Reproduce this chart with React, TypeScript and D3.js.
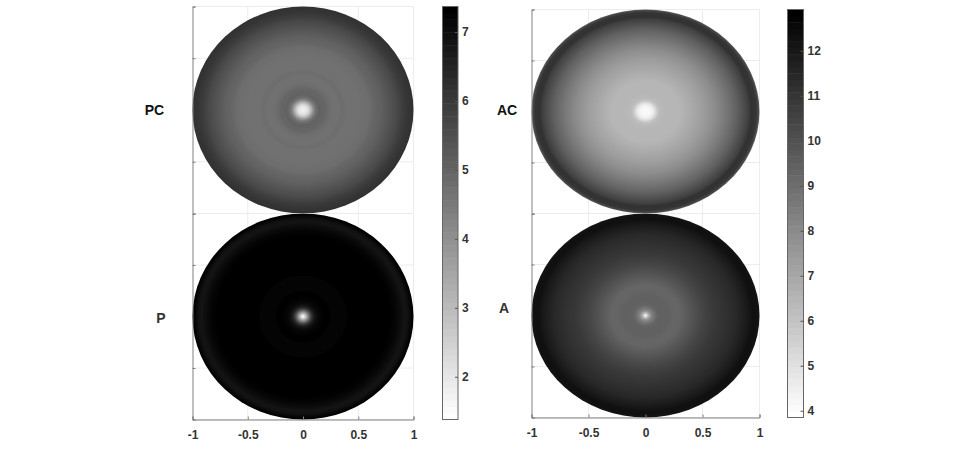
import { useEffect, useRef } from 'react';
import * as d3 from 'd3';

// radial positions (fraction of the disc radius) and the value read at each one
const pcRadii = [0, 0.02, 0.04, 0.06, 0.08, 0.1, 0.12, 0.15, 0.18, 0.2, 0.24, 0.28, 0.32, 0.36, 0.4, 0.5, 0.6, 0.65, 0.7, 0.75, 0.8, 0.85, 0.9, 0.95, 1];
const pcValues = [1.73, 1.85, 2.08, 2.67, 3.49, 4.32, 4.83, 5.11, 5.02, 4.96, 4.82, 4.74, 4.7, 4.76, 4.7, 4.68, 4.8, 4.94, 5.08, 5.27, 5.46, 5.66, 5.88, 6.08, 6.2];

const pRadii = [0, 0.01, 0.02, 0.04, 0.06, 0.08, 0.1, 0.13, 0.16, 0.2, 0.245, 0.25, 0.395, 0.4, 0.78, 0.83, 0.88, 0.92, 0.95, 0.98, 1];
const pValues = [1.5, 1.85, 2.55, 3.85, 5.2, 6.2, 6.8, 7.1, 7.22, 7.28, 7.32, 7.22, 7.22, 7.31, 7.3, 7.2, 7.05, 6.9, 6.95, 7.22, 7.37];

const acRadii = [0, 0.04, 0.07, 0.09, 0.11, 0.13, 0.18, 0.2, 0.3, 0.4, 0.5, 0.6, 0.7, 0.75, 0.8, 0.85, 0.9, 0.93, 0.97, 0.99, 1];
const acValues = [4.03, 4.21, 4.56, 5.27, 5.98, 6.34, 6.52, 6.41, 6.52, 6.87, 7.3, 7.94, 8.58, 9.08, 9.51, 9.95, 10.6, 11.1, 11, 10.3, 9.5];

const aRadii = [0, 0.01, 0.02, 0.04, 0.06, 0.08, 0.1, 0.13, 0.17, 0.2, 0.25, 0.3, 0.35, 0.4, 0.5, 0.6, 0.7, 0.8, 0.85, 0.9, 0.94, 0.97, 1];
const aValues = [4.21, 4.92, 5.98, 7.58, 8.47, 8.94, 9.3, 9.45, 9.5, 9.4, 9.28, 9.36, 9.65, 9.9, 10.43, 10.86, 11.21, 11.5, 11.71, 12, 12.3, 12.3, 12.1];

const xTicks = [-1, -0.5, 0, 0.5, 1];
const yTicks = [-1, -0.5, 0.5, 1];
const leftDomain = [1.38, 7.37];
const rightDomain = [3.85, 12.92];
const leftBarTicks = [2, 3, 4, 5, 6, 7];
const rightBarTicks = [4, 5, 6, 7, 8, 9, 10, 11, 12];

const levels = 64;
const axisColor = '#808080';
const gridColor = '#ececec';
const textColor = '#333';

function grayRamp(domain) {
  const ramp = d3.range(levels).map(i => {
    const g = Math.round(255 * (1 - i / (levels - 1)));
    return d3.rgb(g, g, g).formatHex();
  });
  return d3.scaleQuantize().domain(domain).range(ramp);
}

function styleAxis(g) {
  g.selectAll('path, line').attr('stroke', axisColor);
  g.selectAll('text')
    .attr('fill', textColor)
    .attr('font-family', '"Liberation Sans", Arial, sans-serif')
    .attr('font-size', 12)
    .attr('font-weight', 700);
}

function drawDisc(svg, id, box, radii, values, domain, showX) {
  const x = d3.scaleLinear().domain([-1, 1]).range([box.x0, box.x1]);
  const y = d3.scaleLinear().domain([-1, 1]).range([box.y1, box.y0]);
  const color = grayRamp(domain);

  // Grid lines
  svg.append('g')
    .selectAll('line.v')
    .data(xTicks.slice(1))
    .join('line')
    .attr('x1', d => x(d))
    .attr('x2', d => x(d))
    .attr('y1', box.y0)
    .attr('y2', box.y1)
    .attr('stroke', gridColor);

  svg.append('g')
    .selectAll('line.h')
    .data(yTicks)
    .join('line')
    .attr('x1', box.x0)
    .attr('x2', box.x1)
    .attr('y1', d => y(d))
    .attr('y2', d => y(d))
    .attr('stroke', gridColor);

  const gradient = svg.append('defs')
    .append('radialGradient')
    .attr('id', id);

  gradient.selectAll('stop')
    .data(radii)
    .join('stop')
    .attr('offset', d => d)
    .attr('stop-color', (d, i) => color(values[i]));

  svg.append('ellipse')
    .attr('cx', x(0))
    .attr('cy', y(0))
    .attr('rx', x(1) - x(0))
    .attr('ry', y(-1) - y(0))
    .attr('fill', `url(#${id})`);

  // Axes
  const left = svg.append('g')
    .attr('transform', `translate(${box.x0},0)`)
    .call(d3.axisLeft(y).tickValues(yTicks).tickSize(-3).tickFormat(''));
  styleAxis(left);

  if (showX) {
    const bottom = svg.append('g')
      .attr('transform', `translate(0,${box.y1})`)
      .call(d3.axisBottom(x).tickValues(xTicks).tickSize(-3).tickPadding(10.5).tickFormat(d => String(d)));
    styleAxis(bottom);
  }
}

function drawColorbar(svg, box, domain, ticks) {
  const y = d3.scaleLinear().domain(domain).range([box.y1, box.y0]);
  const color = grayRamp(domain);
  const step = (domain[1] - domain[0]) / levels;
  const bands = d3.range(levels).map(i => domain[0] + i * step);

  svg.append('g')
    .selectAll('rect')
    .data(bands)
    .join('rect')
    .attr('x', box.x0)
    .attr('width', box.x1 - box.x0)
    .attr('y', d => y(d + step))
    .attr('height', d => y(d) - y(d + step) + 0.5)
    .attr('fill', d => color(d + step / 2));

  svg.append('rect')
    .attr('x', box.x0)
    .attr('y', box.y0)
    .attr('width', box.x1 - box.x0)
    .attr('height', box.y1 - box.y0)
    .attr('fill', 'none')
    .attr('stroke', '#666');

  const axis = svg.append('g')
    .attr('transform', `translate(${box.x1},0)`)
    .call(d3.axisRight(y).tickValues(ticks).tickSize(-3).tickPadding(4).tickFormat(d3.format('d')));
  axis.select('.domain').remove();
  styleAxis(axis);
  axis.selectAll('line').attr('stroke', '#555');
}

function App() {
  const svgRef = useRef<SVGSVGElement>(null);

  useEffect(() => {
    const svg = d3.select(svgRef.current);
    svg.selectAll('*').remove();

    const pcBox = { x0: 192.5, x1: 413.5, y0: 6.5, y1: 213.5 };
    const pBox = { x0: 192.5, x1: 413.5, y0: 213.5, y1: 419.5 };
    const acBox = { x0: 531.5, x1: 759.5, y0: 9.5, y1: 213.5 };
    const aBox = { x0: 531.5, x1: 759.5, y0: 213.5, y1: 417.5 };

    drawDisc(svg, 'disc-pc', pcBox, pcRadii, pcValues, leftDomain, false);
    drawDisc(svg, 'disc-p', pBox, pRadii, pValues, leftDomain, true);
    drawDisc(svg, 'disc-ac', acBox, acRadii, acValues, rightDomain, false);
    drawDisc(svg, 'disc-a', aBox, aRadii, aValues, rightDomain, true);

    drawColorbar(svg, { x0: 442.5, x1: 458, y0: 6.5, y1: 419.5 }, leftDomain, leftBarTicks);
    drawColorbar(svg, { x0: 787.5, x1: 803.5, y0: 9.5, y1: 417.5 }, rightDomain, rightBarTicks);

    // Panel names
    const names = [
      { text: 'PC', x: 154.5, y: 115, fill: '#111' },
      { text: 'P', x: 161, y: 323, fill: '#333' },
      { text: 'AC', x: 507, y: 115, fill: '#111' },
      { text: 'A', x: 504, y: 313, fill: '#333' },
    ];
    svg.append('g')
      .selectAll('text')
      .data(names)
      .join('text')
      .attr('x', d => d.x)
      .attr('y', d => d.y)
      .attr('fill', d => d.fill)
      .attr('text-anchor', 'middle')
      .attr('font-family', '"Liberation Sans", Arial, sans-serif')
      .attr('font-size', 14)
      .attr('font-weight', 700)
      .text(d => d.text);
  }, []);

  return (
    <svg
      ref={svgRef}
      width="959"
      height="456"
      style={{ position: 'absolute', left: 0, top: 0, display: 'block', background: '#fff' }}
    />
  );
}

export default App;
